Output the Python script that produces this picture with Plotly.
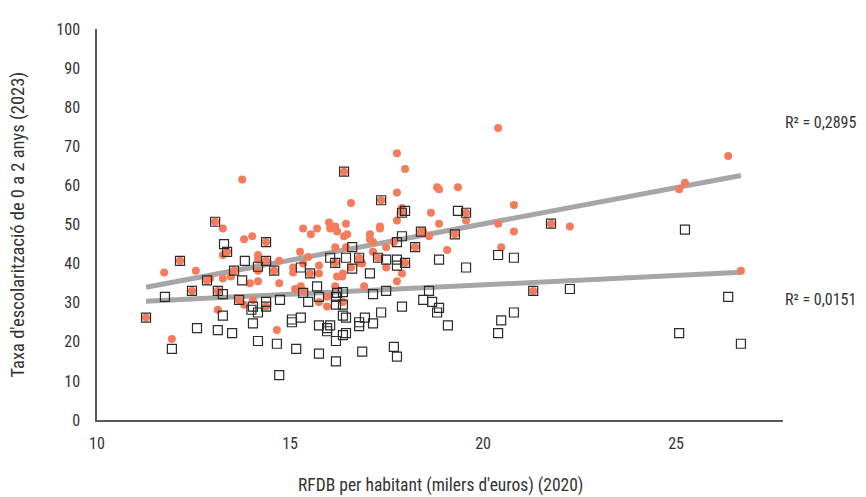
import numpy as np
import plotly.graph_objects as go

# Series 1 (orange circles): RFDB per capita (k€) vs enrolment rate
orange_x = [11.27, 11.94, 11.74, 12.15, 12.46, 12.56, 12.85, 12.93, 13.06, 13.13, 13.13, 13.26, 13.37, 13.26,
            13.26, 13.47, 13.55, 13.68, 13.76, 13.81, 14.02, 13.81, 13.96, 14.17, 14.04, 14.38, 14.38, 14.17,
            14.17, 14.38, 14.72, 14.17, 14.59, 14.72, 14.66, 15.26, 15.47, 15.08, 15.08, 15.34, 15.52, 15.75,
            15.75, 15.34, 15.54, 15.70, 16.01, 16.17, 16.04, 16.22, 16.17, 16.17, 15.13, 15.28, 15.34, 15.75,
            15.96, 15.96, 16.17, 16.37, 16.40, 16.58, 16.45, 16.48, 16.40, 16.45, 16.35, 16.22, 16.37, 16.58,
            16.79, 16.79, 16.87, 16.92, 17.07, 17.07, 17.15, 17.15, 17.33, 17.33, 17.36, 17.28, 17.49, 17.49,
            17.77, 17.98, 17.77, 17.90, 17.90, 17.90, 17.77, 17.69, 17.98, 17.90, 17.77, 18.24, 18.39, 18.45,
            18.60, 18.65, 18.81, 18.86, 18.86, 19.07, 19.27, 19.35, 19.56, 19.56, 20.39, 20.39, 20.47, 20.80,
            20.80, 21.30, 21.76, 22.25, 25.08, 25.23, 26.35, 26.68]
orange_y = [26.2, 20.7, 37.7, 40.7, 33.0, 38.2, 35.7, 36.2, 50.7, 33.0, 28.2, 49.0, 43.0, 42.2,
            36.2, 36.7, 38.2, 30.7, 61.5, 46.2, 47.0, 29.5, 35.0, 35.5, 30.7, 29.0, 45.5, 42.2,
            41.0, 40.7, 40.7, 38.2, 38.2, 35.0, 23.0, 43.0, 41.7, 39.0, 37.7, 40.0, 37.5, 39.5,
            37.5, 49.0, 47.5, 49.0, 50.5, 49.5, 49.0, 48.2, 44.2, 40.2, 33.5, 34.2, 33.0, 30.2,
            31.5, 29.0, 34.2, 30.2, 63.5, 55.5, 50.2, 47.5, 47.0, 44.2, 36.7, 36.7, 37.5, 39.0,
            41.5, 40.2, 40.0, 34.2, 47.5, 46.2, 45.5, 43.0, 49.5, 49.0, 56.2, 41.5, 44.2, 39.0,
            68.2, 64.2, 58.2, 54.2, 53.2, 53.0, 51.0, 45.5, 40.2, 37.5, 35.5, 44.2, 48.2, 48.2,
            47.0, 53.0, 59.5, 59.0, 50.2, 43.5, 47.5, 59.5, 53.0, 51.0, 74.7, 50.2, 44.2, 55.0,
            48.2, 33.0, 50.2, 49.5, 59.0, 60.7, 67.5, 38.2]

# Series 2 (open squares)
square_x = [11.27, 11.94, 11.76, 12.15, 12.46, 12.59, 12.85, 13.06, 13.13, 13.26, 13.26, 13.13, 13.29, 13.37,
            13.55, 13.50, 13.68, 13.76, 13.83, 14.38, 14.38, 14.17, 14.00, 14.04, 14.17, 14.38, 14.38, 14.74,
            14.59, 14.04, 14.17, 14.66, 14.72, 15.16, 15.05, 15.05, 15.28, 15.28, 15.52, 15.70, 15.34, 15.47,
            15.75, 16.19, 16.22, 16.19, 16.37, 16.37, 15.75, 16.04, 15.96, 15.96, 15.75, 16.19, 16.37, 16.45,
            16.19, 16.45, 16.37, 16.04, 16.17, 16.40, 16.61, 16.45, 16.61, 16.79, 17.07, 17.15, 17.49, 16.79,
            16.94, 17.15, 16.79, 17.36, 16.87, 17.28, 17.36, 17.49, 17.77, 17.77, 17.98, 17.98, 17.90, 17.90,
            17.77, 17.90, 17.69, 17.77, 18.24, 18.39, 18.60, 18.45, 18.68, 18.86, 18.81, 18.86, 19.09, 19.27,
            19.35, 19.56, 19.56, 20.39, 20.47, 20.39, 20.80, 20.80, 21.30, 21.76, 22.25, 25.08, 25.23, 26.35,
            26.68]
square_y = [26.2, 18.2, 31.5, 40.7, 33.0, 23.5, 35.7, 50.7, 33.0, 32.2, 26.7, 23.0, 45.0, 43.0,
            38.2, 22.2, 30.7, 35.7, 40.7, 45.5, 40.7, 39.2, 28.2, 29.0, 27.5, 30.2, 29.0, 30.7,
            38.2, 24.7, 20.2, 19.5, 11.5, 18.2, 25.7, 25.0, 26.2, 39.0, 37.5, 34.2, 32.5, 30.2,
            31.5, 31.5, 32.5, 29.5, 29.5, 32.7, 24.2, 24.2, 23.5, 22.7, 17.0, 20.2, 21.7, 22.2,
            15.0, 26.2, 26.7, 41.5, 40.2, 63.5, 44.2, 41.5, 38.7, 41.5, 37.5, 32.2, 33.0, 25.0,
            26.2, 24.7, 24.0, 27.5, 17.5, 41.5, 56.2, 41.0, 41.0, 39.5, 40.2, 53.5, 53.0, 47.0,
            45.5, 29.0, 18.7, 16.2, 44.2, 48.2, 33.0, 30.7, 30.2, 28.7, 27.5, 41.0, 24.2, 47.5,
            53.5, 53.0, 39.0, 42.2, 25.5, 22.2, 41.5, 27.5, 33.0, 50.2, 33.5, 22.2, 48.7, 31.5,
            19.5]

x_ticks = [10, 15, 20, 25]
r2_labels = ["R² = 0,2895", "R² = 0,0151"]
x_title = "RFDB per habitant (milers d'euros) (2020)"
y_title = "Taxa d'escolarització de 0 a 2 anys (2023)"

FONT = "Roboto Condensed, Liberation Sans Narrow, Roboto, sans-serif"
TXT = "#333333"

fig = go.Figure()


def trend(xs, ys):
    m, b = np.polyfit(xs, ys, 1)
    xx = np.array([min(xs), max(xs)])
    return xx, m * xx + b


for xs, ys in [(orange_x, orange_y), (square_x, square_y)]:
    tx, ty = trend(xs, ys)
    fig.add_trace(go.Scatter(x=tx, y=ty, mode="lines",
                             line=dict(color="#A6A6A8", width=5), hoverinfo="skip",
                             showlegend=False))

fig.add_trace(go.Scatter(x=orange_x, y=orange_y, mode="markers",
                         marker=dict(symbol="circle", size=8, color="#F47C5C"),
                         showlegend=False))
fig.add_trace(go.Scatter(x=square_x, y=square_y, mode="markers",
                         marker=dict(symbol="square-open", size=9, color="#2b2b2b",
                                     line=dict(width=1.2)),
                         showlegend=False))

fig.add_annotation(xref="paper", yref="y", x=1.0, y=76.2, xanchor="left", yanchor="middle",
                   text=r2_labels[0], showarrow=False, font=dict(family=FONT, size=16, color=TXT))
fig.add_annotation(xref="paper", yref="y", x=1.0, y=30.8, xanchor="left", yanchor="middle",
                   text=r2_labels[1], showarrow=False, font=dict(family=FONT, size=16, color=TXT))

# axis titles
fig.add_annotation(xref="paper", yref="paper", x=0.5, y=-0.1675, xanchor="center", yanchor="middle",
                   text=x_title, showarrow=False, font=dict(family=FONT, size=17.5, color=TXT))
fig.add_annotation(xref="paper", yref="paper", x=-0.1166, y=0.5, xanchor="center", yanchor="middle",
                   text=y_title, textangle=-90, showarrow=False,
                   font=dict(family=FONT, size=18.5, color=TXT))

# page body has an 8px default margin: figure is sized so it fills the 866x497 window
fig.update_layout(
    width=858, height=489,
    margin=dict(l=89, r=83, t=12, b=77),
    paper_bgcolor="white", plot_bgcolor="white",
    font=dict(family=FONT, size=16, color=TXT),
    xaxis=dict(range=[10, 27.77], tickvals=x_ticks, ticks="", showgrid=False,
               zeroline=False, showline=True, linecolor="#595959", linewidth=1.5,
               tickfont=dict(size=16, color=TXT), ticklabelstandoff=8),
    yaxis=dict(range=[0, 100], dtick=10, ticks="", showgrid=False, zeroline=False,
               showline=True, linecolor="#595959", linewidth=1.5,
               tickfont=dict(size=16, color=TXT), ticklabelstandoff=12),
)

fig.write_html("out.html")
